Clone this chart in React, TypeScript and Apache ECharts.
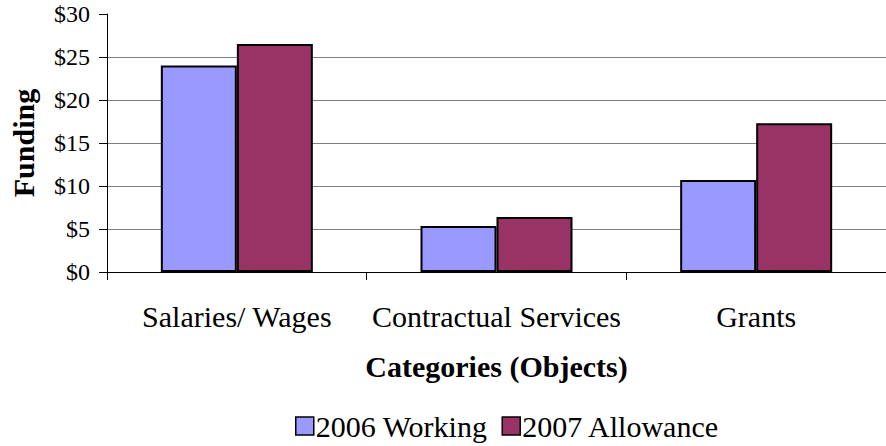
import React, { useEffect, useRef } from "react";
import * as echarts from "echarts";

const categories = ["Salaries/ Wages", "Contractual Services", "Grants"];
const working2006 = [24.0, 5.35, 10.7];
const allowance2007 = [26.5, 6.4, 17.3];
const seriesNames = ["2006 Working", "2007 Allowance"];
const yTicks = [0, 5, 10, 15, 20, 25, 30];

const FONT = "'Liberation Serif', 'Times New Roman', serif";

export default function App() {
  const ref = useRef<HTMLDivElement>(null);
  useEffect(() => {
    if (!ref.current) return;
    const chart = echarts.init(ref.current, null, { renderer: "svg" });
    chart.setOption({
      animation: false,
      backgroundColor: "#ffffff",
      textStyle: { fontFamily: FONT, color: "#000" },
      grid: { left: 107, top: 14, width: 789, height: 258, containLabel: false },
      legend: {
        left: 290,
        top: 406,
        itemWidth: 18,
        itemHeight: 18,
        itemGap: 14,
        icon: "rect",
        itemStyle: { borderColor: "#000", borderWidth: 1.5 },
        textStyle: { fontFamily: FONT, fontSize: 30, color: "#000", padding: [0, 0, 0, -3] },
        data: seriesNames,
      },
      xAxis: {
        type: "category",
        data: categories,
        boundaryGap: true,
        name: "Categories (Objects)",
        nameLocation: "middle",
        nameGap: 79,
        nameTextStyle: { fontFamily: FONT, fontSize: 30, fontWeight: "bold", color: "#000" },
        axisLine: { lineStyle: { color: "#000", width: 1 } },
        axisTick: { show: true, length: 8, alignWithLabel: false, lineStyle: { color: "#000" } },
        axisLabel: { fontFamily: FONT, fontSize: 30, color: "#000", margin: 29, interval: 0 },
        splitLine: { show: false },
      },
      yAxis: {
        type: "value",
        min: 0,
        max: 30,
        interval: 5,
        name: "Funding",
        nameLocation: "middle",
        nameGap: 69,
        nameRotate: 90,
        nameTextStyle: { fontFamily: FONT, fontSize: 30, fontWeight: "bold", color: "#000" },
        axisLine: { show: true, lineStyle: { color: "#000", width: 1 } },
        axisTick: { show: true, length: 8, lineStyle: { color: "#000" } },
        axisLabel: {
          fontFamily: FONT,
          fontSize: 24,
          color: "#000",
          margin: 17,
          formatter: (v: number) => (yTicks.includes(v) ? "$" + v : ""),
        },
        splitLine: {
          show: true,
          lineStyle: {
            color: ["#808080", "#808080", "#808080", "#808080", "#808080", "#808080", "rgba(0,0,0,0)"],
            width: 1,
          },
        },
      },
      series: [
        {
          name: seriesNames[0],
          type: "bar",
          data: working2006,
          barWidth: 76,
          barGap: "0%",
          itemStyle: { color: "#9999FF", borderColor: "#000", borderWidth: 2 },
        },
        {
          name: seriesNames[1],
          type: "bar",
          data: allowance2007,
          barWidth: 76,
          barGap: "0%",
          itemStyle: { color: "#993366", borderColor: "#000", borderWidth: 2 },
        },
      ],
    });
    return () => chart.dispose();
  }, []);
  return (
    <div
      ref={ref}
      style={{ position: "absolute", left: 0, top: 0, width: 886, height: 446, background: "#fff" }}
    />
  );
}
